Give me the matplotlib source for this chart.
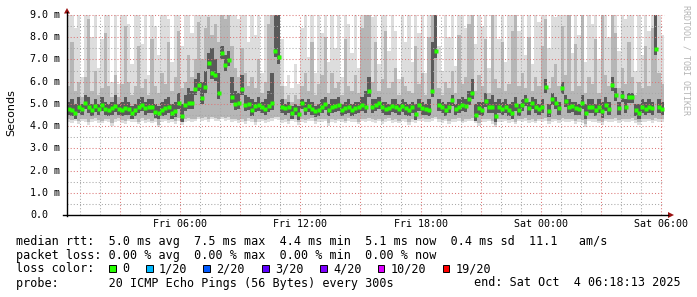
import numpy as np
import matplotlib
matplotlib.use("Agg")
import matplotlib.pyplot as plt
from matplotlib.patches import Rectangle, Polygon
from matplotlib.lines import Line2D

W, H = 697, 297
START_H = 1 / 3      # Fri 00:20 (hours since Fri 00:00)
STEP_H = 1 / 6       # 10-minute bins

# ---------------- data (ms) ----------------
median = [
    4.77, 4.73, 4.61, 4.85, 4.76, 5.06, 4.85, 4.73, 4.90, 4.76,
    4.95, 4.76, 4.73, 4.80, 4.92, 4.76, 4.73, 4.80, 4.77, 4.61,
    4.73, 4.85, 4.95, 4.80, 4.88, 4.85, 4.65, 4.58, 4.73, 4.80,
    4.88, 4.60, 4.70, 5.05, 4.46, 4.95, 5.03, 5.05, 5.66, 5.85,
    5.26, 5.75, 6.86, 6.41, 6.30, 5.51, 7.31, 6.76, 6.98, 5.33,
    5.00, 5.06, 5.66, 4.95, 5.00, 4.73, 4.91, 4.95, 4.85, 4.78,
    4.90, 5.02, 7.39, 7.09, 4.88, 4.80, 4.85, 4.61, 4.78, 4.55,
    5.03, 4.76, 4.91, 4.76, 4.67, 4.73, 4.85, 5.00, 4.73, 4.88,
    4.90, 4.95, 4.73, 4.82, 4.85, 4.73, 4.82, 4.85, 4.95, 4.85,
    5.59, 4.88, 4.95, 5.06, 4.85, 4.76, 4.80, 4.91, 4.88, 4.76,
    4.91, 4.80, 4.73, 4.85, 4.55, 4.95, 4.80, 4.76, 4.73, 5.59,
    7.36, 4.95, 4.88, 4.72, 4.88, 5.18, 4.76, 4.88, 4.95, 4.90,
    5.21, 5.50, 4.50, 4.80, 4.73, 5.15, 4.88, 4.85, 4.45, 4.88,
    4.76, 4.88, 4.73, 4.61, 4.95, 4.73, 4.95, 5.18, 4.80, 5.03,
    4.88, 4.76, 4.85, 5.78, 4.70, 5.21, 5.03, 4.80, 5.73, 5.15,
    4.88, 4.91, 4.80, 4.76, 5.06, 4.60, 4.85, 4.85, 4.73, 4.88,
    4.66, 4.95, 4.76, 5.87, 5.40, 4.80, 5.36, 4.88, 5.30, 5.30,
    4.73, 4.60, 4.88, 4.76, 4.85, 4.80, 7.48, 4.88, 4.76,
]
ping_min = [
    4.20, 4.15, 4.25, 4.10, 4.22, 4.18, 4.05, 4.20, 4.25, 4.15,
    4.12, 4.22, 4.18, 4.00, 4.20, 4.25, 4.15, 4.10, 4.22, 4.18,
    4.20, 4.08, 4.25, 4.15, 4.20, 4.12, 4.18, 3.95, 4.20, 4.22,
    4.15, 4.20, 4.10, 4.25, 4.05, 4.20, 4.25, 4.18, 4.22, 4.30,
    4.25, 4.28, 4.20, 4.30, 4.25, 4.22, 4.30, 4.25, 4.28, 4.20,
    4.22, 4.15, 4.20, 4.10, 4.25, 4.18, 4.05, 4.20, 4.22, 4.15,
    4.20, 4.25, 4.30, 4.28, 4.15, 4.20, 4.10, 4.22, 4.18, 4.05,
    4.20, 4.15, 4.22, 4.25, 4.10, 4.20, 4.18, 4.22, 4.00, 4.20,
    4.15, 4.22, 4.20, 4.12, 4.25, 4.18, 4.20, 4.08, 4.22, 4.20,
    4.25, 4.18, 4.15, 4.22, 4.10, 4.20, 4.25, 4.15, 4.20, 4.12,
    4.22, 4.18, 4.05, 4.20, 4.15, 4.22, 4.25, 4.18, 4.20, 4.25,
    4.30, 4.20, 4.15, 4.22, 4.10, 4.20, 4.18, 4.25, 4.12, 4.20,
    4.22, 4.25, 4.15, 4.00, 4.20, 4.18, 4.22, 4.10, 3.95, 4.20,
    4.18, 4.22, 4.15, 4.20, 4.08, 4.22, 4.18, 4.25, 4.15, 4.20,
    4.12, 4.22, 4.18, 4.25, 4.10, 4.20, 4.22, 4.15, 4.25, 4.20,
    4.18, 4.22, 4.10, 4.20, 4.15, 3.98, 4.22, 4.18, 4.20, 4.12,
    4.05, 4.22, 4.18, 4.20, 4.25, 4.15, 4.22, 4.18, 4.20, 4.25,
    4.15, 4.05, 4.20, 4.18, 4.22, 4.15, 4.25, 4.20, 4.18,
]
ping_max = [
    9.5, 9.5, 8.4, 9.5, 6.2, 9.5, 9.5, 8.0, 9.5, 6.6,
    7.9, 9.5, 9.0, 6.0, 9.5, 5.9, 9.5, 9.5, 8.6, 6.8,
    9.5, 9.5, 7.7, 9.5, 6.3, 9.5, 8.5, 7.2, 9.5, 9.5,
    8.8, 6.9, 9.5, 9.5, 7.6, 9.5, 9.5, 8.2, 9.5, 9.5,
    9.5, 9.5, 9.5, 9.5, 9.5, 9.5, 9.5, 9.5, 9.5, 9.5,
    9.5, 8.8, 9.5, 9.5, 7.8, 9.5, 8.1, 9.5, 6.4, 9.5,
    9.5, 9.5, 9.5, 9.5, 7.9, 5.8, 6.3, 5.7, 6.8, 5.9,
    8.4, 9.5, 7.1, 9.5, 6.4, 9.5, 8.2, 9.5, 6.9, 9.5,
    7.5, 9.5, 6.2, 9.5, 8.6, 7.3, 9.5, 6.6, 9.5, 9.5,
    9.5, 8.9, 9.5, 6.8, 9.5, 9.5, 7.4, 9.5, 8.3, 6.1,
    9.5, 7.8, 9.5, 6.9, 9.5, 8.2, 9.5, 6.4, 9.5, 9.5,
    9.5, 7.6, 6.5, 9.5, 8.0, 9.5, 6.7, 9.5, 9.5, 8.4,
    9.5, 9.5, 7.7, 9.5, 8.5, 9.5, 6.6, 9.5, 9.5, 7.9,
    9.5, 6.9, 9.5, 9.5, 9.5, 8.3, 9.5, 7.2, 9.5, 6.8,
    9.5, 8.7, 9.5, 9.5, 7.5, 9.5, 8.9, 9.5, 9.5, 9.5,
    9.5, 7.3, 9.5, 8.1, 9.5, 6.9, 9.5, 8.6, 9.5, 7.0,
    9.5, 9.5, 8.0, 9.5, 9.5, 7.4, 9.5, 8.8, 9.5, 9.5,
    6.5, 9.5, 7.2, 9.5, 8.3, 9.5, 9.5, 9.5, 8.1,
]
ping_p90 = [
    5.8, 7.8, 5.6, 6.0, 5.3, 6.2, 8.8, 5.6, 6.5, 5.4,
    5.7, 8.2, 5.8, 5.3, 6.3, 5.3, 5.9, 8.5, 6.0, 5.4,
    5.8, 7.6, 5.7, 6.1, 5.4, 7.9, 5.8, 5.5, 6.4, 5.9,
    7.8, 5.6, 6.2, 8.3, 5.7, 6.0, 7.2, 6.2, 7.0, 8.7,
    7.0, 8.4, 8.9, 8.1, 8.6, 7.8, 9.5, 8.8, 9.0, 7.6,
    6.6, 6.2, 7.5, 6.4, 5.8, 6.2, 5.7, 7.0, 5.5, 6.0,
    8.6, 9.5, 9.5, 9.5, 5.8, 5.2, 5.4, 5.1, 5.4, 5.2,
    5.8, 6.4, 5.6, 7.8, 5.4, 5.9, 6.3, 8.0, 5.5, 6.4,
    5.7, 6.0, 5.4, 7.9, 5.8, 5.6, 6.3, 5.5, 8.4, 9.5,
    9.5, 6.0, 7.8, 5.6, 6.1, 8.3, 5.7, 6.0, 6.6, 5.4,
    6.2, 5.8, 5.6, 5.5, 7.6, 5.9, 6.4, 5.4, 8.0, 9.5,
    9.5, 5.7, 5.4, 6.0, 5.7, 6.5, 5.5, 8.1, 5.9, 6.2,
    8.6, 9.5, 5.6, 6.3, 5.8, 7.9, 5.5, 9.5, 6.1, 5.7,
    7.8, 5.6, 5.9, 8.3, 9.5, 5.8, 6.4, 5.7, 8.0, 5.6,
    6.2, 5.8, 7.6, 8.8, 5.7, 6.2, 6.8, 5.8, 8.5, 6.3,
    9.5, 5.6, 7.7, 5.8, 9.5, 5.5, 6.2, 5.9, 7.9, 5.5,
    9.5, 6.3, 5.8, 9.5, 8.2, 5.7, 6.6, 5.9, 7.8, 6.2,
    5.4, 6.0, 5.7, 7.6, 5.8, 8.4, 9.5, 6.4, 5.9,
]
ping_p75 = [
    5.1, 5.2, 5.0, 5.3, 5.0, 5.4, 5.3, 5.0, 5.2, 5.0,
    5.3, 5.1, 5.0, 5.1, 5.4, 5.0, 5.1, 5.3, 5.1, 4.9,
    5.0, 5.2, 5.3, 5.1, 5.2, 5.2, 5.0, 4.9, 5.1, 5.2,
    5.3, 5.0, 5.1, 5.5, 5.0, 5.4, 5.7, 5.6, 6.1, 6.4,
    6.0, 6.5, 7.3, 7.5, 7.0, 6.4, 7.6, 7.2, 7.4, 6.2,
    5.6, 5.5, 6.3, 5.4, 5.3, 5.2, 5.1, 5.3, 5.1, 5.2,
    5.6, 6.4, 9.5, 9.5, 5.2, 5.0, 5.1, 4.9, 5.0, 4.9,
    5.2, 5.1, 5.2, 5.1, 4.9, 5.0, 5.2, 5.3, 5.0, 5.2,
    5.2, 5.3, 5.0, 5.1, 5.2, 5.0, 5.1, 5.1, 5.3, 5.6,
    6.2, 5.2, 5.2, 5.3, 5.1, 5.1, 5.0, 5.2, 5.2, 5.0,
    5.2, 5.1, 5.0, 5.1, 5.0, 5.2, 5.1, 5.0, 5.2, 7.8,
    9.5, 5.2, 5.1, 5.0, 5.1, 5.4, 5.0, 5.2, 5.3, 5.2,
    5.6, 6.1, 5.0, 5.1, 5.1, 5.5, 5.2, 5.4, 5.1, 5.2,
    5.1, 5.2, 5.0, 5.1, 5.3, 5.0, 5.2, 5.4, 5.1, 5.3,
    5.2, 5.0, 5.2, 6.1, 5.0, 5.5, 5.3, 5.1, 6.0, 5.4,
    5.2, 5.1, 5.1, 5.0, 5.4, 5.0, 5.2, 5.2, 5.0, 5.2,
    5.1, 5.3, 5.1, 6.2, 5.7, 5.1, 5.6, 5.2, 5.5, 5.5,
    5.0, 5.0, 5.2, 5.1, 5.2, 5.1, 9.5, 5.2, 5.1,
]

y_values = [0, 1, 2, 3, 4, 5, 6, 7, 8, 9]
y_labels = ["0.0", "1.0 m", "2.0 m", "3.0 m", "4.0 m", "5.0 m",
            "6.0 m", "7.0 m", "8.0 m", "9.0 m"]
x_tick_hours = [6, 12, 18, 24, 30]
x_tick_labels = ["Fri 06:00", "Fri 12:00", "Fri 18:00", "Sat 00:00", "Sat 06:00"]

loss_labels = ["0", "1/20", "2/20", "3/20", "4/20", "10/20", "19/20"]
loss_colors = ["#26ff00", "#00b8ff", "#0059ff", "#5e00ff", "#7e00ff", "#dd00ff", "#ff0000"]

line_rtt = "median rtt:  5.0 ms avg  7.5 ms max  4.4 ms min  5.1 ms now  0.4 ms sd  11.1   am/s"
line_loss = "packet loss: 0.00 % avg  0.00 % max  0.00 % min  0.00 % now"
line_probe = "probe:       20 ICMP Echo Pings (56 Bytes) every 300s"
line_end = "end: Sat Oct  4 06:18:13 2025"

# ---------------- drawing ----------------
MONO = "DejaVu Sans Mono"
med = np.array(median)
lo = np.array(ping_min)
hi = np.array(ping_max)
p90 = np.array(ping_p90)
p75 = np.array(ping_p75)
n = len(med)
edges = START_H + np.arange(n + 1) * STEP_H
centers = START_H + (np.arange(n) + 0.5) * STEP_H
T_END = START_H + n * STEP_H


def st(v):
    return np.append(v, v[-1])


def fx(x):
    return x / W


def fy(y):
    return 1 - y / H


PX_L, PX_R, PX_B, PX_T = 67, 664, 215, 15

fig = plt.figure(figsize=(W / 100, H / 100), dpi=100)
fig.patch.set_facecolor("white")
ax = fig.add_axes([fx(PX_L), fy(PX_B), (PX_R - PX_L) / W, (PX_B - PX_T) / H])
ax.set_xlim(START_H, T_END)
ax.set_ylim(0, 9)
ax.axis("off")

# smoke
ax.fill_between(edges, st(lo), st(hi), step="post", color="#dddddd", lw=0, zorder=1)
ax.fill_between(edges, st(lo + 0.12), st(p90), step="post", color="#b6b6b6", lw=0, zorder=1.1)
ax.fill_between(edges, st(med - 0.28), st(p75), step="post", color="#5a5a5a", lw=0, zorder=1.2)

# grid
RED, GRAY = "#dc7878", "#a8a8a8"
gkw = dict(lw=0.75, ls=(0, (1, 2)))
for v in np.arange(0.5, 9.0, 1.0):
    ax.axhline(v, color=GRAY, zorder=2, **gkw)
for v in range(1, 10):
    ax.axhline(v, color=RED, zorder=2.1, clip_on=False, **gkw)
for h in range(1, 31):
    if h % 3 == 0:
        ax.axvline(h, color=RED, zorder=2.1, **gkw)
    else:
        ax.axvline(h, color=GRAY, zorder=2, **gkw)

# median
ax.plot(centers, med, ls="none", marker="s", ms=2.2, mfc="#26ff00", mec="none", zorder=3)

# axes lines and arrows
fig.add_artist(Line2D([fx(67), fx(67)], [fy(216), fy(12)], color="black", lw=1.0))
fig.add_artist(Line2D([fx(63), fx(668)], [fy(215), fy(215)], color="black", lw=1.0))
fig.add_artist(Polygon([(fx(64), fy(13.5)), (fx(70), fy(13.5)), (fx(67), fy(8))],
                       closed=True, transform=fig.transFigure, color="#9a1010", lw=0))
fig.add_artist(Polygon([(fx(668), fy(212)), (fx(668), fy(218)), (fx(674), fy(215))],
                       closed=True, transform=fig.transFigure, color="#9a1010", lw=0))

# tick labels
for v, lab in zip(y_values, y_labels):
    ypx = PX_B - v * (PX_B - PX_T) / 9
    fig.text(fx(30), fy(ypx), lab, ha="left", va="center", fontsize=7.2, family=MONO)
for h, lab in zip(x_tick_hours, x_tick_labels):
    xpx = PX_L + (h - START_H) / (T_END - START_H) * (PX_R - PX_L)
    fig.text(fx(xpx), fy(224), lab, ha="center", va="center", fontsize=7.2, family=MONO)

fig.text(fx(11), fy(113), "Seconds", rotation=90, ha="center", va="center",
         fontsize=8, family="DejaVu Sans")
fig.text(fx(686), fy(5), "RRDTOOL / TOBI OETIKER", rotation=270, ha="center", va="top",
         fontsize=6, color="#b4b4b4", family=MONO)

# legend
LF = 8.5
fig.text(fx(16), fy(241), line_rtt, ha="left", va="center", fontsize=LF, family=MONO)
fig.text(fx(16), fy(255), line_loss, ha="left", va="center", fontsize=LF, family=MONO)
fig.text(fx(16), fy(269), "loss color:", ha="left", va="center", fontsize=LF, family=MONO)
sq_x = [109, 146, 203, 262, 320, 378, 443]
for xs, lab, col in zip(sq_x, loss_labels, loss_colors):
    fig.add_artist(Rectangle((fx(xs), fy(271.5)), 6.5 / W, 6.5 / H, transform=fig.transFigure,
                             facecolor=col, edgecolor="black", lw=0.7))
    fig.text(fx(xs + 13), fy(269), lab, ha="left", va="center", fontsize=LF, family=MONO)
fig.text(fx(16), fy(283), line_probe, ha="left", va="center", fontsize=LF, family=MONO)
fig.text(fx(681), fy(283), line_end, ha="right", va="center", fontsize=LF, family=MONO)

fig.savefig("out.png", dpi=100, facecolor="white")
